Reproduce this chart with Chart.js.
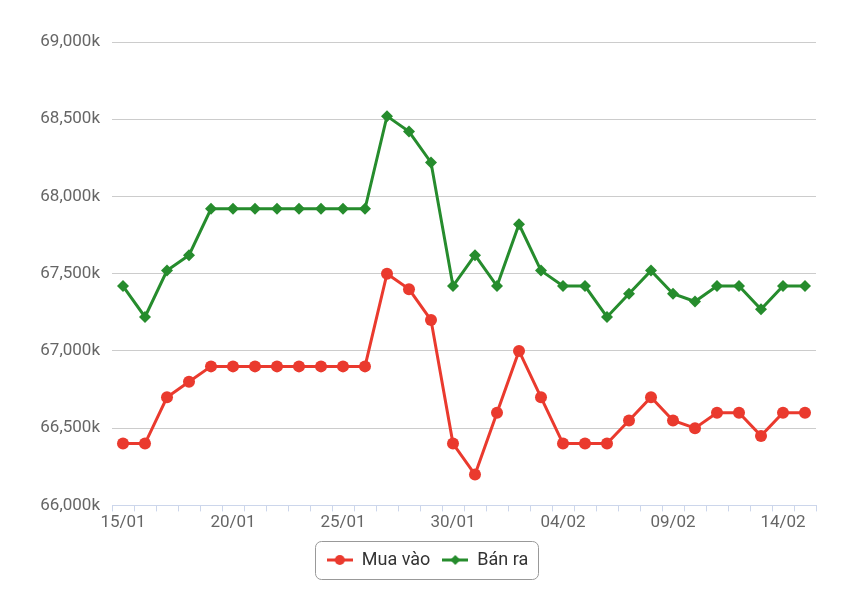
<!DOCTYPE html>
<html>
<head>
<meta charset="utf-8">
<script src="https://cdn.jsdelivr.net/npm/chart.js@4/dist/chart.umd.min.js"></script>
<style>
  html, body { margin: 0; padding: 0; background: #fff; }
  #wrap { width: 855px; height: 601px; position: relative; }
</style>
</head>
<body>
<div id="wrap"><canvas id="c" width="855" height="601"></canvas></div>
<script>
const categories = ['15/01','16/01','17/01','18/01','19/01','20/01','21/01','22/01','23/01','24/01',
  '25/01','26/01','27/01','28/01','29/01','30/01','31/01','01/02','02/02','03/02',
  '04/02','05/02','06/02','07/02','08/02','09/02','10/02','11/02','12/02','13/02','14/02','15/02'];
const muaVao = [66400,66400,66700,66800,66900,66900,66900,66900,66900,66900,
  66900,66900,67500,67400,67200,66400,66200,66600,67000,66700,
  66400,66400,66400,66550,66700,66550,66500,66600,66600,66450,66600,66600];
const banRa = [67420,67220,67520,67620,67920,67920,67920,67920,67920,67920,
  67920,67920,68520,68420,68220,67420,67620,67420,67820,67520,
  67420,67420,67220,67370,67520,67370,67320,67420,67420,67270,67420,67420];
const seriesNames = ['Mua vào', 'Bán ra'];
const yTicks = { min: 66000, max: 69000, step: 500 };

const RED = '#ea3a2e';
const GREEN = '#268c2d';
const FONT = 'Roboto, "Noto Sans", sans-serif';

function legendIcon(color, shape) {
  const c = document.createElement('canvas');
  c.width = 26; c.height = 12;
  const g = c.getContext('2d');
  g.strokeStyle = color; g.lineWidth = 3;
  g.beginPath(); g.moveTo(0, 6); g.lineTo(26, 6); g.stroke();
  g.fillStyle = color;
  g.beginPath();
  if (shape === 'circle') {
    g.arc(13, 6, 5, 0, Math.PI * 2);
  } else {
    g.moveTo(13, 1); g.lineTo(18, 6); g.lineTo(13, 11); g.lineTo(8, 6); g.closePath();
  }
  g.fill();
  return c;
}
const icons = [legendIcon(RED, 'circle'), legendIcon(GREEN, 'diamond')];

const legendBorder = {
  id: 'legendBorder',
  afterDraw(chart) {
    const lg = chart.legend;
    if (!lg || !lg.legendHitBoxes || !lg.legendHitBoxes.length) return;
    const hb = lg.legendHitBoxes;
    let l = Infinity, r = -Infinity, t = Infinity, b = -Infinity;
    hb.forEach(h => { l = Math.min(l, h.left); r = Math.max(r, h.left + h.width); t = Math.min(t, h.top); b = Math.max(b, h.top + h.height); });
    const cy = (t + b) / 2;
    const x = Math.round(l - 12) + 0.5, y = Math.round(cy - 19) + 0.5;
    const w = Math.round(r - l + 22), h = 38;
    const ctx = chart.ctx;
    ctx.save();
    ctx.strokeStyle = '#999';
    ctx.lineWidth = 1;
    ctx.beginPath();
    if (ctx.roundRect) ctx.roundRect(x, y, w, h, 6); else ctx.rect(x, y, w, h);
    ctx.stroke();
    ctx.restore();
  }
};

new Chart(document.getElementById('c'), {
  type: 'line',
  data: {
    labels: categories,
    datasets: [
      {
        label: seriesNames[0], data: muaVao,
        borderColor: RED, backgroundColor: RED, borderWidth: 3,
        pointStyle: 'circle', pointRadius: 6, pointBackgroundColor: RED, pointBorderWidth: 0,
        tension: 0
      },
      {
        label: seriesNames[1], data: banRa,
        borderColor: GREEN, backgroundColor: GREEN, borderWidth: 3,
        pointStyle: 'rectRot', pointRadius: 6, pointBackgroundColor: GREEN, pointBorderWidth: 0,
        tension: 0
      }
    ]
  },
  options: {
    responsive: false,
    animation: false,
    events: [],
    layout: { padding: { left: 39, right: 39, top: 42, bottom: 22 } },
    scales: {
      x: {
        type: 'category',
        offset: true,
        grid: { display: true, drawOnChartArea: false, drawTicks: true, tickLength: 6, offset: true, color: '#ccd6eb' },
        border: { display: true, color: '#ccd6eb', width: 1 },
        ticks: {
          autoSkip: false, maxRotation: 0, minRotation: 0, padding: 1,
          color: '#666', font: { family: FONT, size: 17 },
          callback: function (v, i) { return i % 5 === 0 ? categories[i] : ''; }
        }
      },
      y: {
        min: yTicks.min, max: yTicks.max,
        afterFit(scale) { scale.width = 73; },
        grid: { color: '#cccccc', drawTicks: false, lineWidth: 1 },
        border: { display: false },
        ticks: {
          stepSize: yTicks.step, padding: 12,
          color: '#666', font: { family: FONT, size: 17 },
          callback: v => v.toLocaleString('en-US') + 'k'
        }
      }
    },
    plugins: {
      tooltip: { enabled: false },
      legend: {
        position: 'bottom',
        title: { display: true, text: '', font: { size: 1 }, padding: { top: 0, bottom: 4 } },
        labels: {
          usePointStyle: true,
          pointStyleWidth: 26,
          padding: 12,
          color: '#333',
          font: { family: FONT, size: 18 },
          generateLabels(chart) {
            const items = Chart.defaults.plugins.legend.labels.generateLabels(chart);
            items.forEach((it, i) => { it.pointStyle = icons[i]; it.fontColor = '#333'; });
            return items;
          }
        }
      }
    }
  },
  plugins: [legendBorder]
});
</script>
</body>
</html>
